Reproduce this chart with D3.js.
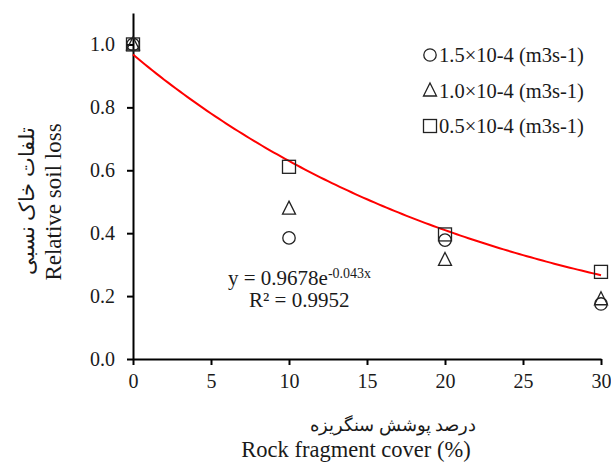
<!DOCTYPE html>
<html>
<head>
<meta charset="utf-8">
<script src="https://cdn.jsdelivr.net/npm/d3@7"></script>
</head>
<body style="margin:0;background:#fff">
<div id="chart"></div>
<script>
var svgWidth = 611;
var svgHeight = 463;
var serif = "'Times New Roman'";
var ink = "#1a1a1a";

var margin = { top: 13, right: 10, bottom: 104, left: 133 };
var width = 601 - margin.left;
var height = 359 - margin.top;

// data
var cover = [0, 10, 20, 30];
var loss15 = [1.0, 0.385, 0.378, 0.175];   // 1.5x10-4 (circle)
var loss10 = [1.0, 0.478, 0.315, 0.19];    // 1.0x10-4 (triangle)
var loss05 = [1.0, 0.611, 0.396, 0.277];   // 0.5x10-4 (square)
var seriesNames = ["1.5×10-4 (m3s-1)", "1.0×10-4 (m3s-1)", "0.5×10-4 (m3s-1)"];
var seriesShapes = ["circle", "triangle", "square"];
var xTicks = [0, 5, 10, 15, 20, 25, 30];
var yTicks = [0, 0.2, 0.4, 0.6, 0.8, 1.0];
var fitA = 0.9678;
var fitB = -0.043;

var svg = d3.select("#chart")
  .append("svg")
  .attr("width", svgWidth)
  .attr("height", svgHeight);

var chartGroup = svg.append("g")
  .attr("transform", `translate(${margin.left}, ${margin.top})`);

var x = d3.scaleLinear().domain([0, 30]).range([0, width]);
var y = d3.scaleLinear().domain([0, 1.1]).range([height, 0]);

// axes
var bottomAxis = d3.axisBottom(x).tickValues(xTicks).tickSizeInner(6).tickSizeOuter(0).tickPadding(9).tickFormat(d3.format("d"));
var leftAxis = d3.axisLeft(y).tickValues(yTicks).tickSizeInner(6).tickSizeOuter(0).tickPadding(12).tickFormat(d3.format(".1f"));

function styleAxis(g) {
  g.selectAll("path, line").attr("stroke", "#000").attr("stroke-width", 2);
  g.selectAll("text").style("font-family", serif).style("font-size", "20px").attr("fill", ink);
}

chartGroup.append("g")
  .call(leftAxis)
  .call(styleAxis);

chartGroup.append("g")
  .attr("transform", `translate(0, ${height})`)
  .call(bottomAxis)
  .call(styleAxis);

// symbols
var symSize = 13;
function drawSymbol(g, shape, cx, cy) {
  var h = symSize / 2;
  if (shape === "circle") {
    g.append("circle").attr("cx", cx).attr("cy", cy).attr("r", h - 0.3);
  } else if (shape === "square") {
    g.append("rect").attr("x", cx - h).attr("y", cy - h).attr("width", symSize).attr("height", symSize);
  } else {
    g.append("path").attr("d", `M${cx},${cy - h - 1}L${cx + h},${cy + h - 1}L${cx - h},${cy + h - 1}Z`);
  }
}

var allSeries = [loss15, loss10, loss05];

// trend line
var fitX = d3.range(0, 30.01, 0.25);
var line = d3.line().x(d => x(d)).y(d => y(fitA * Math.exp(fitB * d)));
chartGroup.append("path")
  .datum(fitX)
  .attr("d", line)
  .attr("fill", "none")
  .attr("stroke", "#ff0000")
  .attr("stroke-width", 2);

var markGroup = chartGroup.append("g")
  .attr("fill", "none")
  .attr("stroke", "#222")
  .attr("stroke-width", 1.3);

allSeries.forEach(function(vals, i) {
  vals.forEach(function(v, j) {
    drawSymbol(markGroup, seriesShapes[i], x(cover[j]), y(v));
  });
});

function addText(sel, size) {
  return sel.append("text")
    .style("font-family", serif)
    .style("font-size", size + "px")
    .attr("fill", ink);
}

// legend
var legend = svg.append("g");
seriesNames.forEach(function(name, i) {
  var ly = 55 + i * 35.5;
  var mg = legend.append("g").attr("fill", "none").attr("stroke", "#222").attr("stroke-width", 1.3);
  drawSymbol(mg, seriesShapes[i], 430, ly);
  addText(legend, 20.5)
    .attr("x", 439)
    .attr("y", ly + 7)
    .text(name);
});

// equation
var eq = addText(svg, 21)
  .attr("x", 228)
  .attr("y", 285);
eq.append("tspan").text("y = " + fitA + "e");
eq.append("tspan").attr("dy", -7).style("font-size", "14px").text(fitB + "x");

addText(svg, 21)
  .attr("x", 249)
  .attr("y", 307)
  .text("R² = 0.9952");

// axis titles
addText(svg, 21)
  .attr("text-anchor", "middle")
  .attr("transform", "translate(34, 201) rotate(-90)")
  .text("تلفات خاک نسبی");

addText(svg, 23)
  .attr("text-anchor", "middle")
  .attr("transform", "translate(61, 202) rotate(-90)")
  .text("Relative soil loss");

addText(svg, 17.5)
  .attr("text-anchor", "middle")
  .attr("x", 393)
  .attr("y", 431)
  .text("درصد پوشش سنگریزه");

addText(svg, 22.5)
  .attr("text-anchor", "middle")
  .attr("x", 356)
  .attr("y", 457)
  .text("Rock fragment cover (%)");
</script>
</body>
</html>
